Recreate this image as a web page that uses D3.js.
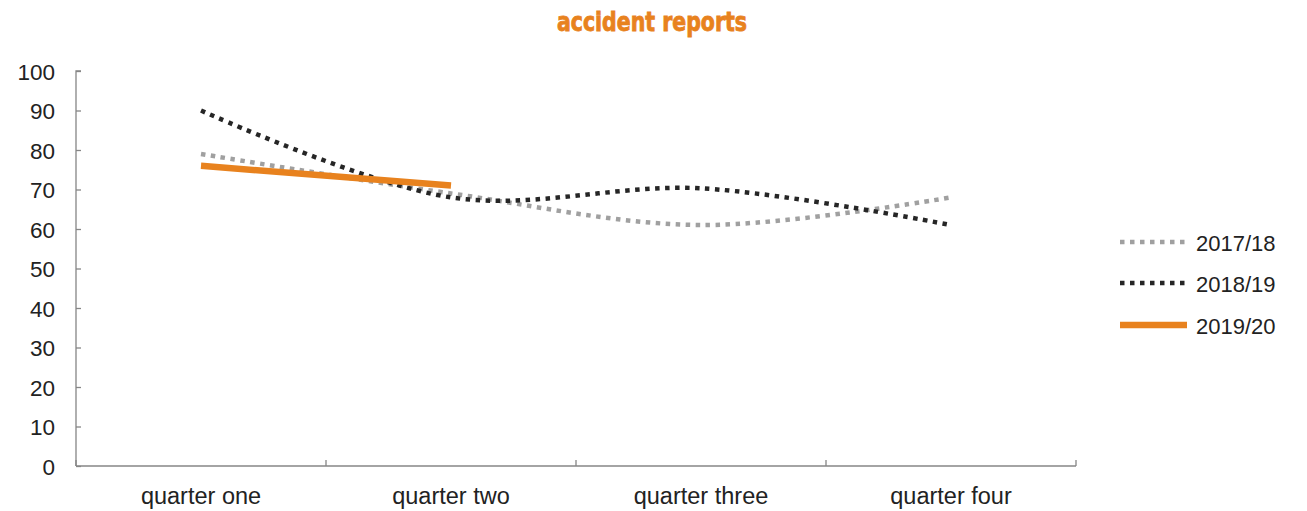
<!DOCTYPE html>
<html><head><meta charset="utf-8">
<script src="https://cdn.jsdelivr.net/npm/d3@7"></script>
<style>body{margin:0;background:#fff}svg{display:block}</style>
</head><body>
<script>
const categories = ["quarter one", "quarter two", "quarter three", "quarter four"];
const series2017 = [79, 69, 61, 68];
const series2018 = [90, 68, 70.3, 61];
const series2019 = [76, 71, null, null];
const seriesNames = ["2017/18", "2018/19", "2019/20"];
const yTicks = [0, 10, 20, 30, 40, 50, 60, 70, 80, 90, 100];

const W = 1307, H = 511;
const svg = d3.select("body").append("svg").attr("width", W).attr("height", H);
const font = "'Liberation Sans', Arial, sans-serif";

const x = d3.scaleBand().domain(categories).range([76, 1076]);
const y = d3.scaleLinear().domain([0, 100]).range([466, 71]);

svg.append("text").attr("x", 652).attr("y", 31).attr("text-anchor", "middle")
  .attr("font-family", "'Liberation Sans Narrow', 'DejaVu Sans Condensed', Arial, sans-serif")
  .attr("font-weight", "bold").attr("font-size", 26).attr("fill", "#E8821E")
  .attr("stroke", "#E8821E").attr("stroke-width", 0.8)
  .attr("textLength", 190).attr("lengthAdjust", "spacingAndGlyphs")
  .text("accident reports");

const axisColor = "#868686";
const yAxis = svg.append("g").attr("transform", "translate(76,0)")
  .call(d3.axisRight(y).tickValues(yTicks).tickSize(5).tickFormat(""));
yAxis.select(".domain").attr("stroke", axisColor).attr("stroke-width", 1.3).attr("d", "M5,71H0V466");
yAxis.selectAll(".tick line").attr("stroke", axisColor).attr("stroke-width", 1.3);
svg.append("g").selectAll("text").data(yTicks).join("text")
  .attr("x", 55).attr("y", d => y(d) + 8.5).attr("text-anchor", "end")
  .attr("font-family", font).attr("font-size", 22.5).attr("fill", "#222").text(d => d);

const xAxis = svg.append("g").attr("transform", "translate(0,466)")
  .call(d3.axisTop(x).tickSize(0).tickFormat(""));
xAxis.select(".domain").attr("stroke", axisColor).attr("stroke-width", 1.3).attr("d", "M76,0H1076");
const bounds = categories.map(c => x(c) + x.bandwidth()).concat([x(categories[0])]);
svg.append("g").selectAll("line").data(bounds).join("line")
  .attr("x1", d => d).attr("x2", d => d).attr("y1", 466).attr("y2", 460)
  .attr("stroke", axisColor).attr("stroke-width", 1.3);
svg.append("g").selectAll("text").data(categories).join("text")
  .attr("x", d => x(d) + x.bandwidth() / 2).attr("y", 504).attr("text-anchor", "middle")
  .attr("font-family", font).attr("font-size", 23.5).attr("fill", "#222").text(d => d);

const styles = [
  {color: "#A0A0A0", width: 4.5, dash: "4.5,5.5"},
  {color: "#262626", width: 4.5, dash: "4.5,5.5"},
  {color: "#E8821E", width: 6.5, dash: null}
];
const allSeries = [series2017, series2018, series2019];

allSeries.forEach((s, i) => {
  const pts = s.map((v, j) => [v, j]).filter(p => p[0] != null);
  svg.append("path")
    .attr("d", d3.line().x(p => x(categories[p[1]]) + x.bandwidth() / 2).y(p => y(p[0]))
      .curve(d3.curveCatmullRom.alpha(0.5))(pts))
    .attr("fill", "none").attr("stroke", styles[i].color).attr("stroke-width", styles[i].width)
    .attr("stroke-dasharray", styles[i].dash).attr("stroke-linejoin", "round");
});

const legY = [242, 283, 325];
seriesNames.forEach((n, i) => {
  svg.append("line").attr("x1", 1120).attr("x2", 1187).attr("y1", legY[i]).attr("y2", legY[i])
    .attr("stroke", styles[i].color).attr("stroke-width", styles[i].width)
    .attr("stroke-dasharray", styles[i].dash);
  svg.append("text").attr("x", 1196).attr("y", legY[i] + 8.5)
    .attr("font-family", font).attr("font-size", 22).attr("fill", "#222").text(n);
});
</script>
</body></html>
